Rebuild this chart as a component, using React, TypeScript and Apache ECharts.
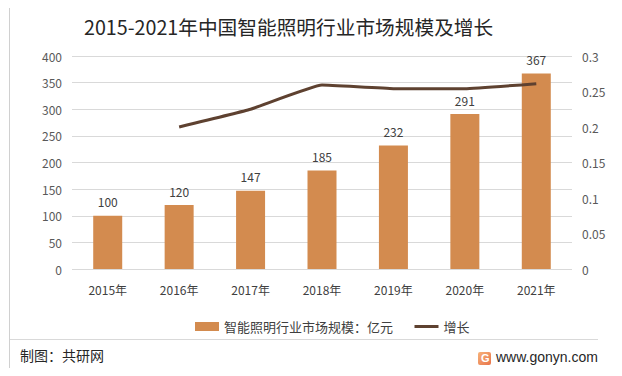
import React, { useEffect, useRef } from "react";
import * as echarts from "echarts";

const categories = ["2015年", "2016年", "2017年", "2018年", "2019年", "2020年", "2021年"];
const marketSize = [100, 120, 147, 185, 232, 291, 367];
const growth: (number | null)[] = [null, 0.2, 0.225, 0.259, 0.254, 0.254, 0.261];
const titleText = "2015-2021年中国智能照明行业市场规模及增长";
const barName = "智能照明行业市场规模：亿元";
const lineName = "增长";
const sourceText = "制图：共研网";
const siteText = "www.gonyn.com";

const CJK = '"Noto Sans CJK SC", "Noto Sans", sans-serif';

export default function App() {
  const ref = useRef<HTMLDivElement>(null);
  useEffect(() => {
    if (!ref.current) return;
    const chart = echarts.init(ref.current, null, { renderer: "svg" });
    chart.setOption({
      animation: false,
      backgroundColor: "#ffffff",
      textStyle: { fontFamily: CJK },
      grid: { left: 72, right: 50, top: 56, bottom: 107 },
      legend: {
        data: [
          { name: barName, icon: "rect", itemStyle: { color: "#D38B4F" } },
          {
            name: lineName,
            itemStyle: { opacity: 0 },
            lineStyle: { color: "#5E4130", width: 3 },
          },
        ],
        left: 190,
        top: 315,
        itemWidth: 24,
        itemHeight: 9,
        itemGap: 20,
        textStyle: { fontSize: 13, color: "#404040", fontFamily: CJK },
      },
      xAxis: {
        type: "category",
        data: categories,
        axisLine: { show: false },
        axisTick: { show: false },
        axisLabel: { fontSize: 12, color: "#404040", margin: 14, fontFamily: CJK },
      },
      yAxis: [
        {
          type: "value",
          min: 0,
          max: 400,
          interval: 50,
          axisLine: { show: false },
          axisTick: { show: false },
          axisLabel: { fontSize: 12, color: "#595959", margin: 10, fontFamily: CJK },
          splitLine: { lineStyle: { color: "#D9D9D9", width: 1 } },
        },
        {
          type: "value",
          min: 0,
          max: 0.3,
          interval: 0.05,
          axisLine: { show: false },
          axisTick: { show: false },
          axisLabel: { fontSize: 12, color: "#595959", margin: 10, fontFamily: CJK },
          splitLine: { show: false },
        },
      ],
      series: [
        {
          name: barName,
          type: "bar",
          data: marketSize,
          barWidth: 29,
          itemStyle: { color: "#D38B4F" },
          label: {
            show: true,
            position: "top",
            distance: 8,
            fontSize: 12,
            color: "#404040",
            fontFamily: CJK,
          },
        },
        {
          name: lineName,
          type: "line",
          yAxisIndex: 1,
          data: growth,
          symbol: "none",
          smooth: 0.1,
          lineStyle: { color: "#5E4130", width: 3 },
          itemStyle: { color: "#5E4130" },
        },
      ],
      graphic: [
        {
          type: "rect",
          shape: { x: 9.5, y: 5.5, width: 606, height: 365 },
          style: { fill: "none", stroke: "#D0D0D0", lineWidth: 1 },
          silent: true,
        },
        {
          type: "text",
          left: 84,
          top: 17,
          style: { text: titleText, fontSize: 19.7, fill: "#262626", fontFamily: CJK },
        },
        {
          type: "line",
          shape: { x1: 10, y1: 339.5, x2: 598, y2: 339.5 },
          style: { stroke: "#D9D9D9", lineWidth: 1 },
        },
        {
          type: "text",
          left: 20,
          top: 348,
          style: { text: sourceText, fontSize: 14, fill: "#262626", fontFamily: CJK },
        },
        {
          type: "rect",
          shape: { x: 478, y: 352, width: 13, height: 13, r: 2 },
          style: {
            fill: new echarts.graphic.LinearGradient(0, 0, 1, 1, [
              { offset: 0, color: "#F7B37A" },
              { offset: 1, color: "#E8734A" },
            ]),
          },
        },
        {
          type: "text",
          left: 481,
          top: 352,
          style: { text: "G", fontSize: 11, fontWeight: "bold", fill: "#ffffff", fontFamily: "Arial" },
        },
        {
          type: "text",
          left: 496,
          top: 350,
          style: { text: siteText, fontSize: 14, fill: "#262626", fontFamily: '"Liberation Sans", Arial, sans-serif' },
        },
      ],
    });
    return () => chart.dispose();
  }, []);
  return <div ref={ref} style={{ width: 622, height: 376, margin: -8 }} />;
}
